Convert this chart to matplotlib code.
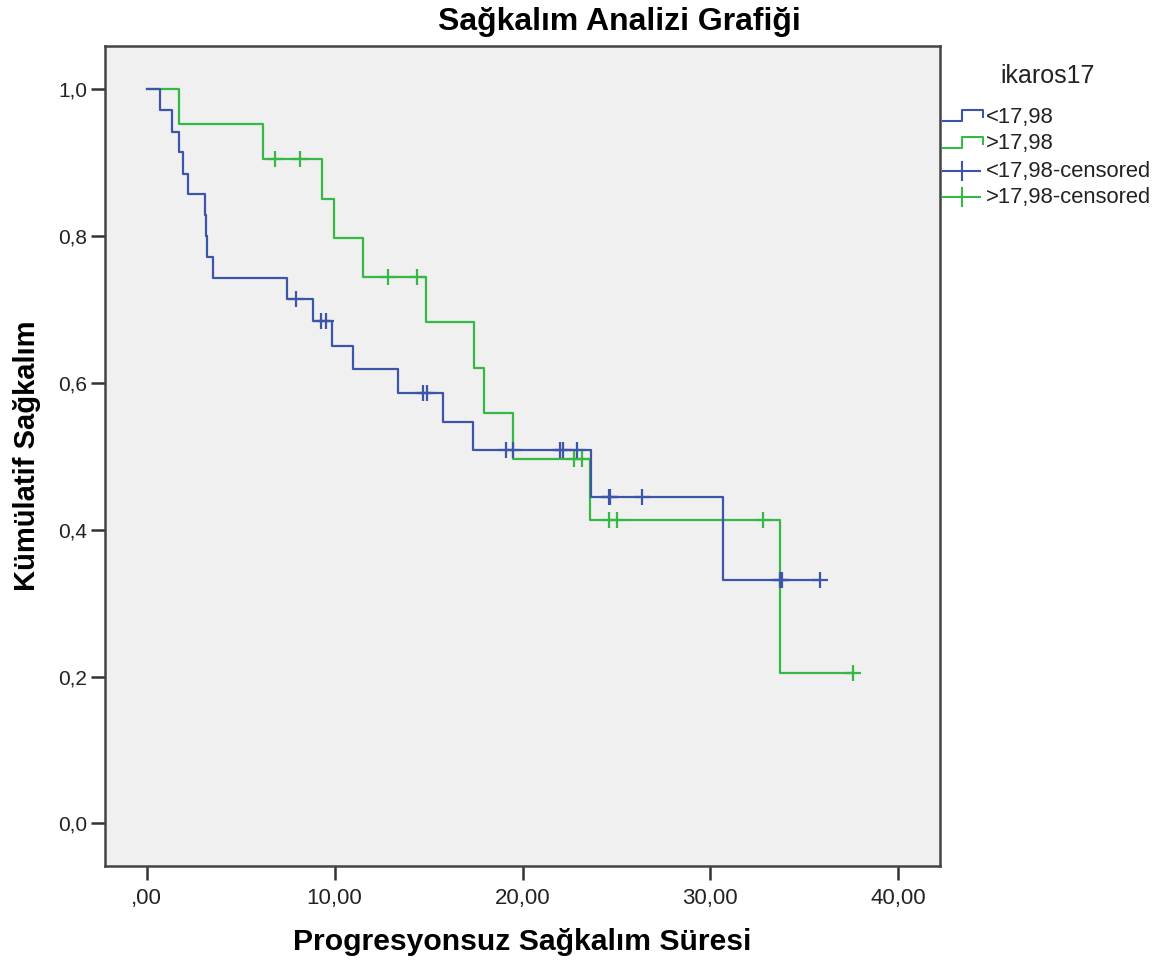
import numpy as np
import matplotlib

matplotlib.use("Agg")
import matplotlib.pyplot as plt
from matplotlib.lines import Line2D

# Kaplan-Meier steps (time, survival after the drop)
blue_times = [0.0, 0.71, 1.36, 1.72, 1.95, 2.21, 3.10, 3.17, 3.22, 3.54, 7.48,
              8.87, 9.88, 10.96, 13.39, 15.75, 17.37, 23.65, 30.69]
blue_surv = [1.0, 0.972, 0.942, 0.915, 0.884, 0.858, 0.829, 0.800, 0.772, 0.743,
             0.714, 0.685, 0.651, 0.619, 0.586, 0.547, 0.508, 0.444, 0.332]
blue_censored = [7.96, 9.28, 9.53, 14.68, 14.90, 19.10, 19.51, 22.02, 22.18, 22.90,
                 24.60, 24.68, 26.34, 33.70, 33.79, 35.83]

green_times = [0.0, 1.72, 6.17, 9.31, 9.98, 11.53, 14.86, 17.42, 17.95, 19.48,
               23.61, 33.68]
green_surv = [1.0, 0.953, 0.905, 0.851, 0.798, 0.745, 0.683, 0.621, 0.559, 0.496,
              0.414, 0.205]
green_censored = [6.83, 8.16, 12.86, 14.40, 22.74, 23.15, 24.59, 25.01, 32.78, 37.57]

group_labels = ["<17,98", ">17,98"]
legend_title = "ikaros17"
x_ticks = [0, 10, 20, 30, 40]
x_tick_labels = [",00", "10,00", "20,00", "30,00", "40,00"]
y_ticks = [0.0, 0.2, 0.4, 0.6, 0.8, 1.0]
y_tick_labels = ["0,0", "0,2", "0,4", "0,6", "0,8", "1,0"]

BLUE = "#3d55a8"
GREEN = "#35b845"
BOLD_FAMILY = ["Liberation Sans", "DejaVu Sans"]
plt.rcParams["font.family"] = ["Liberation Sans", "DejaVu Sans"]

W, H = 1169, 965
fig = plt.figure(figsize=(W / 100, H / 100), dpi=100)
ax = fig.add_axes([105 / W, 1 - 866 / H, (940 - 105) / W, (866 - 46) / H])
ax.set_facecolor("#f0f0f0")


def draw_curve(times, surv, censored, color):
    times = np.asarray(times)
    surv = np.asarray(surv)
    end = max(max(censored), times[-1])
    xs = np.append(times, end)
    ys = np.append(surv, surv[-1])
    ax.step(xs, ys, where="post", color=color, linewidth=1.6, zorder=3)
    cx = np.asarray(censored)
    idx = np.searchsorted(times, cx, side="right") - 1
    ax.plot(cx, surv[idx], linestyle="none", marker="+", markersize=12,
            markeredgewidth=1.6, color=color, zorder=4)


draw_curve(green_times, green_surv, green_censored, GREEN)
draw_curve(blue_times, blue_surv, blue_censored, BLUE)

ax.set_xlim(-2.22, 42.22)
ax.set_ylim(-0.058, 1.059)
ax.set_xticks(x_ticks, labels=x_tick_labels)
ax.set_yticks(y_ticks, labels=y_tick_labels)
ax.tick_params(axis="both", direction="out", length=10, width=1.8, color="#333333",
               labelcolor="#222222")
ax.tick_params(axis="x", pad=6, labelsize=16)
ax.tick_params(axis="y", pad=3, labelsize=15)
for spine in ax.spines.values():
    spine.set_color("#444444")
    spine.set_linewidth(1.8)

fig.text(619 / W, 1 - 22 / H, "Sağkalım Analizi Grafiği", ha="center", va="center",
         fontsize=23, fontweight="bold", family=BOLD_FAMILY)
fig.text(522 / W, 1 - 942 / H, "Progresyonsuz Sağkalım Süresi", ha="center", va="center",
         fontsize=21.7, fontweight="bold", family=BOLD_FAMILY)
fig.text(27 / W, 1 - 456 / H, "Kümülatif Sağkalım", ha="center", va="center",
         rotation=90, fontsize=21, fontweight="bold", family=BOLD_FAMILY)


# legend drawn by hand in figure pixels
def fx(px):
    return px / W


def fy(py):
    return 1 - py / H


fig.text(fx(1048), fy(76), legend_title, ha="center", va="center", fontsize=18, color="#222222")
rows = [117, 144, 171, 197]
colors = [BLUE, GREEN, BLUE, GREEN]
texts = [group_labels[0], group_labels[1],
         group_labels[0] + "-censored", group_labels[1] + "-censored"]
for i, (ry, col, txt) in enumerate(zip(rows, colors, texts)):
    if i < 2:
        xs = [943, 962, 962, 983, 983]
        ys = [ry + 4, ry + 4, ry - 7, ry - 7, ry]
        fig.add_artist(Line2D([fx(v) for v in xs], [fy(v) for v in ys],
                              color=col, linewidth=1.5, transform=fig.transFigure))
    else:
        fig.add_artist(Line2D([fx(943), fx(980)], [fy(ry), fy(ry)],
                              color=col, linewidth=1.5, transform=fig.transFigure))
        fig.add_artist(Line2D([fx(962), fx(962)], [fy(ry - 9), fy(ry + 9)],
                              color=col, linewidth=1.5, transform=fig.transFigure))
    fig.text(fx(986), fy(ry), txt, ha="left", va="center", fontsize=15.8, color="#222222")

fig.savefig("out.png", dpi=100)
